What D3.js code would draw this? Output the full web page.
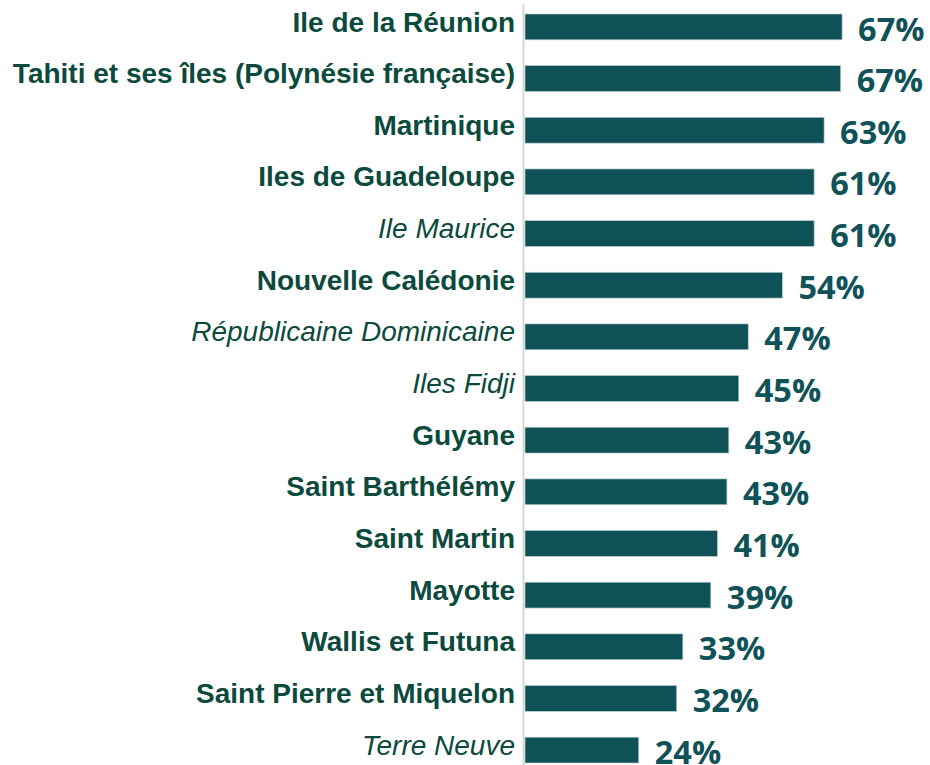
<!DOCTYPE html>
<html>
<head>
<meta charset="utf-8">
<script src="https://cdn.jsdelivr.net/npm/d3@7"></script>
<style>
  body { margin:0; background:#fff; }
  .cat { font-family:"Liberation Sans", Arial, sans-serif; font-size:28px; fill:#0b4a3d; }
  .val { font-family:"Open Sans", sans-serif; font-size:32.5px; font-weight:700; fill:#0f5257; }
</style>
</head>
<body>
<svg class="chart"></svg>
<script>
// territoires, dans l'ordre du graphique
var territoires = [
  'Ile de la Réunion',
  'Tahiti et ses îles (Polynésie française)',
  'Martinique',
  'Iles de Guadeloupe',
  'Ile Maurice',
  'Nouvelle Calédonie',
  'Républicaine Dominicaine',
  'Iles Fidji',
  'Guyane',
  'Saint Barthélémy',
  'Saint Martin',
  'Mayotte',
  'Wallis et Futuna',
  'Saint Pierre et Miquelon',
  'Terre Neuve'
];
// valeurs en %
var valeurs = [66.9, 66.6, 63.1, 61.0, 61.0, 54.3, 47.1, 45.1, 43.0, 42.6, 40.6, 39.2, 33.3, 32.0, 24.0];
// etrangers -> en italique
var etrangers = ['Ile Maurice', 'Républicaine Dominicaine', 'Iles Fidji', 'Terre Neuve'];

var data = territoires.map((t,i)=>{return {nom:t, val:valeurs[i], ital:etrangers.indexOf(t)>=0}});

var W = 930, H = 765;
var canvas = d3.select(".chart").attr("width",W).attr("height",H);

var x = d3.scaleLinear().domain([0,100]).range([525,999]);
var y = d3.scaleBand().domain(territoires).range([14,763]).paddingInner(0.5).paddingOuter(0);

/* ligne de l'axe */
canvas.append("line")
  .attr("x1",x(0)-1.5).attr("x2",x(0)-1.5)
  .attr("y1",4).attr("y2",H)
  .attr("stroke","#d6d6d6").attr("stroke-width",2);

canvas.selectAll(".bar")
  .data(data)
  .enter()
  .append("rect")
    .classed("bar",true)
    .attr("x",x(0))
    .attr("y",d=>y(d.nom))
    .attr("width",d=>x(d.val)-x(0))
    .attr("height",y.bandwidth())
    .attr("fill","#0e5257")
    .attr("stroke","#b9cccc")
    .attr("stroke-width",0.7);

canvas.selectAll(".cat")
  .data(data)
  .enter()
  .append("text")
    .classed("cat",true)
    .attr("text-anchor","end")
    .attr("x",515)
    .attr("y",d=>y(d.nom)+17.5)
    .style("font-weight",d=>d.ital?"normal":"bold")
    .style("font-style",d=>d.ital?"italic":"normal")
    .text(d=>d.nom);

canvas.selectAll(".val")
  .data(data)
  .enter()
  .append("text")
    .classed("val",true)
    .attr("x",d=>x(d.val)+16)
    .attr("y",d=>y(d.nom)+26.5)
    .text(d=>Math.round(d.val)+"%");
</script>
</body>
</html>
